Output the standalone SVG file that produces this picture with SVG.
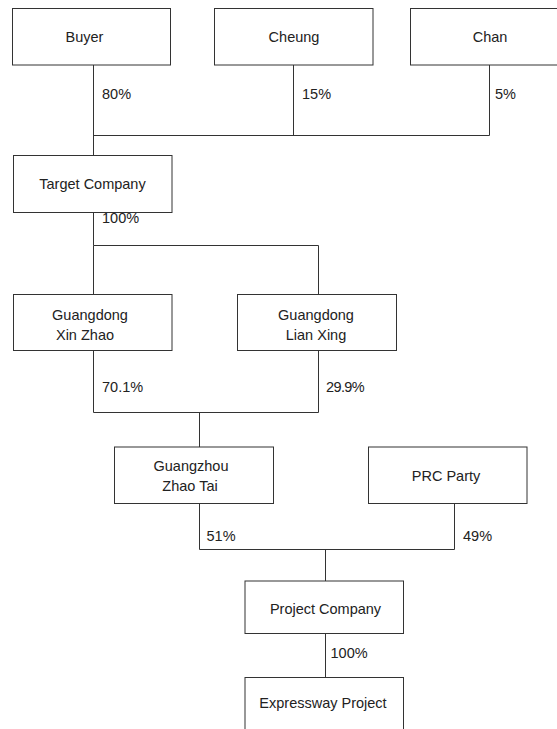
<svg xmlns="http://www.w3.org/2000/svg" width="557" height="729" viewBox="0 0 557 729">
<style>
rect{fill:#fff;stroke:#333;stroke-width:1}
.c line, .c polyline{stroke:#333;stroke-width:1;fill:none}
text{font-family:"Liberation Sans",Arial,sans-serif;font-size:14.5px;fill:#222}
.m{text-anchor:middle}
</style>
<rect width="557" height="729" style="fill:#fff;stroke:none"/>
<g class="c" id="connectors">
<polyline points="93.5,65 93.5,155.5"/>
<polyline points="93.5,135.5 489.5,135.5"/>
<line x1="293.5" y1="65" x2="293.5" y2="135.5"/>
<line x1="489.5" y1="65" x2="489.5" y2="135.5"/>
<polyline points="93.5,212.5 93.5,245.5 318.5,245.5 318.5,294"/>
<line x1="93.5" y1="245.5" x2="93.5" y2="294"/>
<polyline points="93.5,350.5 93.5,412.5 318.5,412.5 318.5,350.5"/>
<line x1="199.5" y1="412.5" x2="199.5" y2="447"/>
<polyline points="199.5,503.5 199.5,549.5 454.5,549.5 454.5,503.5"/>
<line x1="325.5" y1="549.5" x2="325.5" y2="581"/>
<line x1="325.5" y1="633.5" x2="325.5" y2="677.5"/>
<text x="102" y="99">80%</text>
<text x="302" y="99">15%</text>
<text x="495" y="99">5%</text>
<text x="102" y="223">100%</text>
<text x="102" y="391.5">70.1%</text>
<text x="326" y="391.5" letter-spacing="-0.6">29.9%</text>
<text x="206.5" y="541">51%</text>
<text x="463" y="541">49%</text>
<text x="330.5" y="658">100%</text>
</g>
<g id="buyer"><rect x="12.5" y="8.5" width="158" height="56.5"/><text class="m" x="84.5" y="41.5">Buyer</text></g>
<g id="cheung"><rect x="214.5" y="8.5" width="158.5" height="56.5"/><text class="m" x="294" y="41.5">Cheung</text></g>
<g id="chan"><rect x="410.5" y="8.5" width="159" height="56.5"/><text class="m" x="490" y="41.5">Chan</text></g>
<g id="target"><rect x="13.5" y="155.5" width="158.5" height="57"/><text class="m" x="92.5" y="189">Target Company</text></g>
<g id="xinzhao"><rect x="13.5" y="294.5" width="158.5" height="56"/><text class="m" x="90" y="319.5">Guangdong</text><text class="m" x="85" y="340">Xin Zhao</text></g>
<g id="lianxing"><rect x="237.5" y="294.5" width="159" height="56"/><text class="m" x="316" y="319.5">Guangdong</text><text class="m" x="316" y="340">Lian Xing</text></g>
<g id="zhaotai"><rect x="114.5" y="447" width="159" height="56.5"/><text class="m" x="191" y="470.5">Guangzhou</text><text class="m" x="190" y="490.5">Zhao Tai</text></g>
<g id="prc"><rect x="368.5" y="447" width="158.5" height="56.5"/><text class="m" x="446" y="480.5">PRC Party</text></g>
<g id="project"><rect x="245" y="581" width="158.5" height="52.5"/><text class="m" x="325.5" y="613.5">Project Company</text></g>
<g id="expressway"><rect x="245" y="677.5" width="158.5" height="60"/><text class="m" x="323" y="708">Expressway Project</text></g>
</svg>
